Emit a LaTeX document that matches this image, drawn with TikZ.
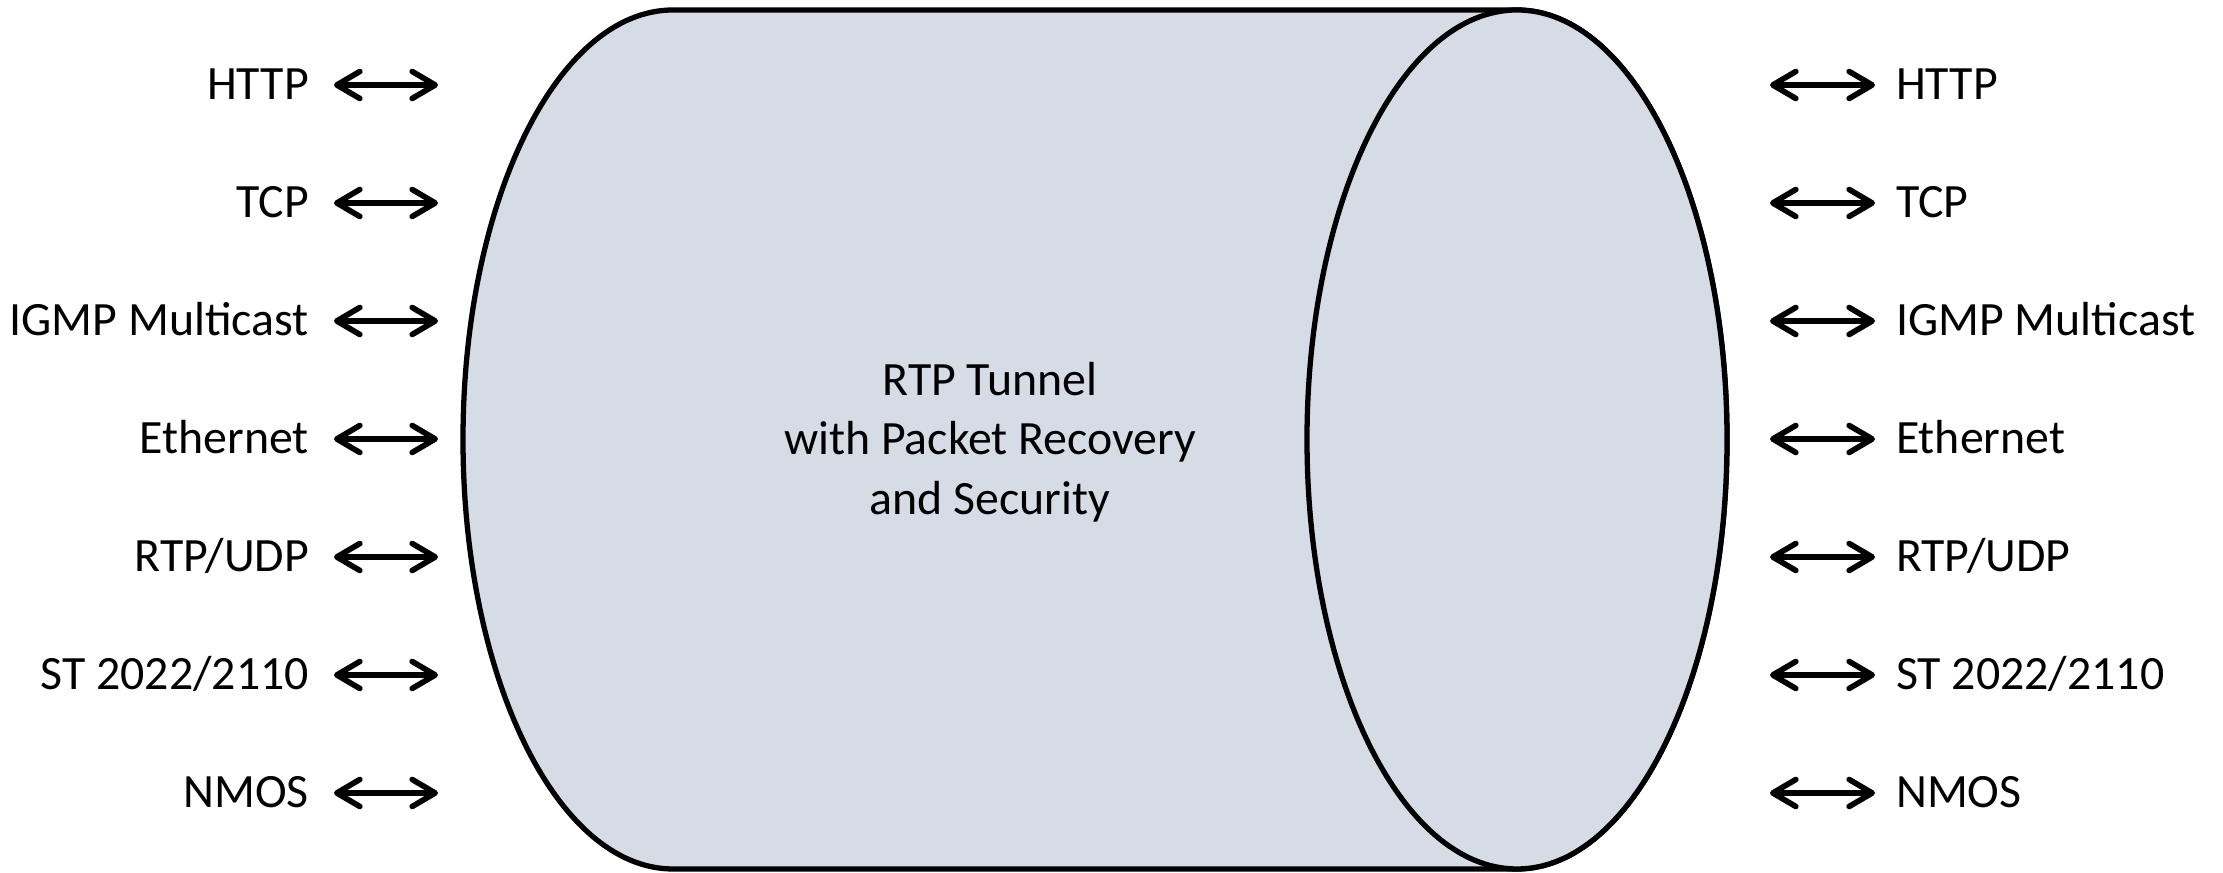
\documentclass[tikz,border=0pt]{standalone}
\usepackage{fontspec}
\setmainfont{Carlito}
\usetikzlibrary{arrows.meta}
\definecolor{ink}{RGB}{0,0,0}
\definecolor{tubefill}{RGB}{214,220,229}
\tikzset{
  every picture/.style={color=ink, line width=1.2pt},
  tube/.style={draw=ink, fill=tubefill, line width=1.5pt},
  proto/.style={inner sep=0pt, font=\fontsize{13.6}{16}\selectfont},
  biarrow/.style={{Straight Barb[length=2.3mm,width=2.7mm,line cap=round,line join=round]}-{Straight Barb[length=2.3mm,width=2.7mm,line cap=round,line join=round]}, line width=1.6pt},
  inner/.style={align=center, inner sep=0pt, font=\fontsize{13.6}{16.9}\selectfont},
}
\begin{document}
\begin{tikzpicture}[x=0.01cm, y=0.01cm]
  \useasboundingbox (0,0) rectangle (2223,873);
  % the tunnel body, then the near end cap
  \draw[tube] (673,863) -- (1517,863)
    arc[start angle=90, end angle=-90, x radius=210, y radius=429.5]
    -- (673,4)
    arc[start angle=270, end angle=90, x radius=210, y radius=429.5] -- cycle;
  \draw[tube] (1517,433.5) ellipse[x radius=210, y radius=429.5];
  \node[inner] (tunnel) at (990,431) {RTP Tunnel\\with Packet Recovery\\and Security};
  % protocols on both sides
  \foreach \p [count=\i from 0] in {HTTP, TCP, IGMP Multicast, Ethernet, RTP/UDP, ST 2022/2110, NMOS} {
    \pgfmathsetmacro{\y}{788-118*\i}
    \node[proto, anchor=base east] (l\i) at (311,\y-15) {\p};
    \node[proto, anchor=base west] (r\i) at (1894,\y-15) {\p};
    \coordinate (la\i) at (334,\y);
    \coordinate (lb\i) at (438,\y);
    \coordinate (ra\i) at (1770,\y);
    \coordinate (rb\i) at (1875,\y);
    \draw[biarrow] (la\i) -- (lb\i);
    \draw[biarrow] (ra\i) -- (rb\i);
  }
\end{tikzpicture}
\end{document}
